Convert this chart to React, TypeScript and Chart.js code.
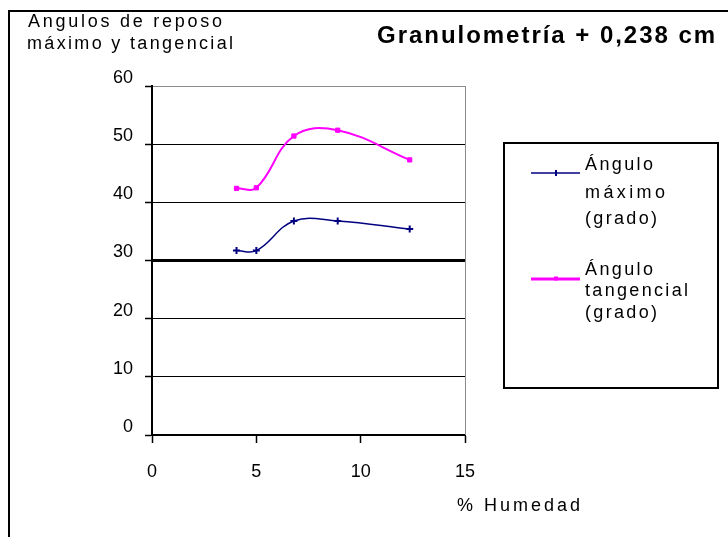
import React, { useEffect, useRef } from "react";
import { Chart, registerables } from "chart.js";

Chart.register(...registerables);

// ---- data ----
const humedad = [4.05, 5.0, 6.8, 8.9, 12.35];
const anguloMaximo = [31.7, 31.7, 36.8, 36.8, 35.4];
const anguloTangencial = [42.4, 42.5, 51.4, 52.4, 47.3];
const seriesNames = [
  ["Ángulo", "máximo", "(grado)"],
  ["Ángulo", "tangencial", "(grado)"],
];
const chartTitle = "Granulometría + 0,238 cm";
const yTitleLines = ["Angulos de reposo", "máximo y tangencial"];
const xTitle = "% Humedad";

const FONT = "'Liberation Sans', Arial, sans-serif";
const BLUE = "#000080";
const PINK = "#FF00FF";

function spacedText(ctx: CanvasRenderingContext2D, text: string, x: number, y: number, target: number) {
  (ctx as any).letterSpacing = "0px";
  const w = ctx.measureText(text).width;
  const n = Array.from(text).length;
  const s = Math.max(0, (target - w) / Math.max(1, n - 1));
  (ctx as any).letterSpacing = s.toFixed(2) + "px";
  ctx.fillText(text, x, y);
  (ctx as any).letterSpacing = "0px";
}

const decorPlugin = {
  id: "decor",
  afterDraw(chart: any) {
    const ctx: CanvasRenderingContext2D = chart.ctx;
    const a = chart.chartArea;
    ctx.save();
    // plot right border (gray)
    ctx.strokeStyle = "#8c8c8c";
    ctx.lineWidth = 1;
    ctx.beginPath();
    ctx.moveTo(Math.round(a.right) + 0.5, a.top);
    ctx.lineTo(Math.round(a.right) + 0.5, a.bottom);
    ctx.stroke();

    // outer frame (top & left)
    ctx.strokeStyle = "#000";
    ctx.lineWidth = 2;
    ctx.beginPath();
    ctx.moveTo(9, 537);
    ctx.lineTo(9, 11);
    ctx.lineTo(728, 11);
    ctx.stroke();

    ctx.fillStyle = "#000";
    ctx.textAlign = "left";
    ctx.textBaseline = "alphabetic";

    // title
    ctx.font = `bold 24px ${FONT}`;
    spacedText(ctx, chartTitle, 377, 43, 338);

    // y title
    ctx.font = `18px ${FONT}`;
    spacedText(ctx, yTitleLines[0], 28, 27, 194);
    spacedText(ctx, yTitleLines[1], 27, 49, 206);

    // x title
    ctx.font = `18px ${FONT}`;
    spacedText(ctx, xTitle, 457, 511, 123);

    // legend box
    ctx.strokeStyle = "#000";
    ctx.lineWidth = 2;
    ctx.strokeRect(504, 143, 214, 245);

    // legend entries
    const entries = [
      { color: BLUE, lw: 1.5, lineY: 173, rows: [165, 193, 219], widths: [68, 80, 72], style: "cross" },
      { color: PINK, lw: 3, lineY: 279, rows: [270, 291, 313], widths: [68, 103, 72], style: "rect" },
    ];
    entries.forEach((e, i) => {
      ctx.strokeStyle = e.color;
      ctx.lineWidth = e.lw;
      ctx.beginPath();
      ctx.moveTo(531, e.lineY);
      ctx.lineTo(580, e.lineY);
      ctx.stroke();
      ctx.fillStyle = e.color;
      if (e.style === "cross") {
        ctx.lineWidth = 2;
        ctx.beginPath();
        ctx.moveTo(556, e.lineY - 3);
        ctx.lineTo(556, e.lineY + 3);
        ctx.stroke();
      } else {
        ctx.fillRect(554, e.lineY - 2.5, 4, 4);
      }
      ctx.fillStyle = "#000";
      ctx.font = `18px ${FONT}`;
      ctx.textBaseline = "middle";
      seriesNames[i].forEach((t, k) => {
        spacedText(ctx, t, 585, e.rows[k], e.widths[k]);
      });
    });
    ctx.restore();
  },
};

export default function App() {
  const ref = useRef<HTMLCanvasElement | null>(null);
  useEffect(() => {
    document.body.style.margin = "0";
    const canvas = ref.current!;
    const chart = new Chart(canvas, {
      type: "line",
      data: {
        datasets: [
          {
            label: seriesNames[0].join(" "),
            data: humedad.map((x, i) => ({ x, y: anguloMaximo[i] })),
            borderColor: BLUE,
            backgroundColor: BLUE,
            borderWidth: 1.5,
            pointStyle: "cross",
            pointRadius: 3.5,
            pointBorderWidth: 2,
            tension: 0.4,
            fill: false,
          },
          {
            label: seriesNames[1].join(" "),
            data: humedad.map((x, i) => ({ x, y: anguloTangencial[i] })),
            borderColor: PINK,
            backgroundColor: PINK,
            borderWidth: 2,
            pointStyle: "rect",
            pointRadius: 3,
            pointBorderWidth: 1,
            tension: 0.4,
            fill: false,
          },
        ],
      },
      options: {
        animation: false,
        responsive: false,
        devicePixelRatio: 1,
        layout: { padding: { top: 86, left: 0, right: 263, bottom: 0 } },
        plugins: {
          legend: { display: false },
          tooltip: { enabled: false },
          title: { display: false },
        },
        scales: {
          x: {
            type: "linear",
            min: 0,
            max: 15,
            afterFit: (s: any) => {
              s.height = 102;
            },
            ticks: {
              stepSize: 5,
              color: "#000",
              font: { family: FONT, size: 18 },
              padding: 18,
              maxRotation: 0,
            },
            grid: {
              drawOnChartArea: false,
              drawTicks: true,
              tickLength: 8,
              color: "#000",
              tickWidth: 1.5,
            },
            border: { color: "#000", width: 2 },
          },
          y: {
            type: "linear",
            min: 0,
            max: 60,
            afterFit: (s: any) => {
              s.width = 152;
            },
            ticks: {
              stepSize: 10,
              color: "#000",
              font: { family: FONT, size: 18 },
              padding: 12,
              labelOffset: -8,
            },
            grid: {
              drawTicks: true,
              tickLength: 7,
              color: (c: any) => (c.tick && c.tick.value === 60 ? "#8c8c8c" : "#000"),
              lineWidth: (c: any) => (c.tick && c.tick.value === 30 ? 3 : 1),
              tickColor: "#000",
              tickWidth: 1.5,
            },
            border: { color: "#000", width: 2 },
          },
        },
      },
      plugins: [decorPlugin],
    });
    return () => chart.destroy();
  }, []);
  return (
    <div style={{ width: 728, height: 537, background: "#fff" }}>
      <canvas ref={ref} width={728} height={537} style={{ display: "block" }} />
    </div>
  );
}
